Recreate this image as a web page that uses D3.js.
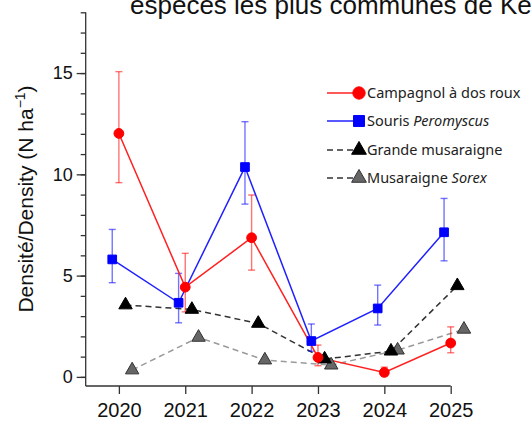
<!DOCTYPE html>
<html>
<head>
<meta charset="utf-8">
<script src="https://cdn.jsdelivr.net/npm/d3@7"></script>
<style>
  body { margin: 0; background: #fff; }
  svg { display: block; }
</style>
</head>
<body>
<svg id="chart" width="531" height="421"></svg>
<script>
// values
var years = [2020, 2021, 2022, 2023, 2024, 2025];

var campagnol   = [12.02, 4.43, 6.87, 0.96, 0.22, 1.67];
var campagnolLo = [9.59, 3.21, 5.27, 0.55, 0.05, 1.19];
var campagnolHi = [15.07, 6.10, 8.98, 1.57, 0.48, 2.47];

var souris   = [5.80, 3.66, 10.36, 1.77, 3.38, 7.14];
var sourisLo = [4.65, 2.67, 8.53, 1.27, 2.56, 5.73];
var sourisHi = [7.28, 5.11, 12.60, 2.61, 4.53, 8.81];

var grande = [3.55, 3.33, 2.64, 0.88, 1.27, 4.50];
var sorex  = [0.34, 1.95, 0.83, 0.58, 1.32, 2.35];

var yMajor = [0, 5, 10, 15];
var yMinor = d3.range(0, 19);

var svg = d3.select('#chart');

var x = d3.scaleLinear().domain([2019.5, 2025]).range([85.7, 450.7]),
    y = d3.scaleLinear().domain([-0.45, 18]).range([386, 12.3]);

var AXIS_COL = '#333';

// title, clipped by the window like the original
svg.append('text')
    .attr('x', 130)
    .attr('y', 13.5)
    .attr('font-family', 'Liberation Sans, Arial, sans-serif')
    .attr('font-size', 26)
    .attr('fill', '#111')
    .text('espèces les plus communes de Kenauk');

// axes
var yAxis = svg.append('g').attr('transform', 'translate(85.7,0)');
yAxis.call(d3.axisLeft(y).tickValues(yMinor).tickSize(5).tickFormat(''));
yAxis.append('g').call(d3.axisLeft(y).tickValues(yMajor).tickSize(9).tickPadding(4).tickFormat(d3.format('d')));
yAxis.selectAll('.domain').remove();
yAxis.append('line')
    .attr('y1', y(18)).attr('y2', y(-0.45))
    .attr('stroke', AXIS_COL).attr('stroke-width', 1.5);
yAxis.selectAll('line').attr('stroke', AXIS_COL).attr('stroke-width', 1.3);
yAxis.selectAll('text')
    .attr('font-family', 'Liberation Sans, Arial, sans-serif')
    .attr('font-size', 18).attr('fill', '#111');

var xAxis = svg.append('g').attr('transform', 'translate(0,386)');
xAxis.call(d3.axisBottom(x).tickValues(years).tickSize(8).tickPadding(8.5).tickFormat(d3.format('d')));
xAxis.select('.domain').remove();
xAxis.append('line')
    .attr('x1', x(2019.5)).attr('x2', x(2025))
    .attr('stroke', AXIS_COL).attr('stroke-width', 1.5);
xAxis.selectAll('line').attr('stroke', AXIS_COL).attr('stroke-width', 1.3);
xAxis.selectAll('text')
    .attr('font-family', 'Liberation Sans, Arial, sans-serif')
    .attr('font-size', 20).attr('fill', '#111');

// y label
svg.append('text')
    .attr('transform', 'translate(33,199) rotate(-90)')
    .attr('text-anchor', 'middle')
    .attr('font-family', 'Liberation Sans, Arial, sans-serif')
    .attr('font-size', 21)
    .attr('fill', '#111')
    .html('Densité/Density (N ha<tspan dy="-8" font-size="14">−1</tspan><tspan dy="8">)</tspan>');

// series drawing
function pts(vals, off) {
    return vals.map(function (v, i) { return [years[i] + off, v]; });
}

var line = d3.line()
    .x(function (d) { return x(d[0]); })
    .y(function (d) { return y(d[1]); });

function drawErrors(vals, lo, hi, off, col) {
    var g = svg.append('g')
        .attr('stroke', col).attr('stroke-opacity', 0.55).attr('stroke-width', 1.4);
    vals.forEach(function (v, i) {
        var cx = x(years[i] + off);
        g.append('line').attr('x1', cx).attr('x2', cx).attr('y1', y(lo[i])).attr('y2', y(hi[i]));
        g.append('line').attr('x1', cx - 3.5).attr('x2', cx + 3.5).attr('y1', y(lo[i])).attr('y2', y(lo[i]));
        g.append('line').attr('x1', cx - 3.5).attr('x2', cx + 3.5).attr('y1', y(hi[i])).attr('y2', y(hi[i]));
    });
}

function drawLine(vals, off, col, dash) {
    svg.append('path')
        .datum(pts(vals, off))
        .attr('d', line)
        .attr('fill', 'none')
        .attr('stroke', col)
        .attr('stroke-width', 1.5)
        .attr('stroke-dasharray', dash || null);
}

function drawMarks(vals, off, type, size, fill, stroke) {
    svg.append('g').selectAll('path')
        .data(pts(vals, off))
        .enter().append('path')
        .attr('transform', function (d) { return 'translate(' + x(d[0]) + ',' + y(d[1]) + ')'; })
        .attr('d', d3.symbol().type(type).size(size))
        .attr('fill', fill)
        .attr('stroke', stroke)
        .attr('stroke-width', 1);
}

drawLine(sorex, 0.2, '#9a9a9a', '6,4');
drawLine(grande, 0.1, '#333', '6,4');
drawErrors(campagnol, campagnolLo, campagnolHi, 0, '#ff0000');
drawErrors(souris, sourisLo, sourisHi, -0.1, '#0000ff');
drawLine(campagnol, 0, '#ff2020');
drawLine(souris, -0.1, '#2020ff');

drawMarks(sorex, 0.2, d3.symbolTriangle, 78, '#666', '#333');
drawMarks(grande, 0.1, d3.symbolTriangle, 78, '#000', '#000');
drawMarks(campagnol, 0, d3.symbolCircle, 75, '#ff0000', '#ff0000');
drawMarks(souris, -0.1, d3.symbolSquare, 75, '#0000ff', '#0000ff');

// legend
var legend = [
    { label: 'Campagnol à dos roux', it: null, line: '#ff2020', dash: null, sym: d3.symbolCircle, fill: '#ff0000', stroke: '#ff0000' },
    { label: 'Souris ', it: 'Peromyscus', line: '#2020ff', dash: null, sym: d3.symbolSquare, fill: '#0000ff', stroke: '#0000ff' },
    { label: 'Grande musaraigne', it: null, line: '#333', dash: '6,4', sym: d3.symbolTriangle, fill: '#000', stroke: '#000' },
    { label: 'Musaraigne ', it: 'Sorex', line: '#333', dash: '6,4', sym: d3.symbolTriangle, fill: '#666', stroke: '#333' }
];
var legendY = [93, 121, 150, 178];

var lg = svg.append('g').selectAll('g')
    .data(legend)
    .enter().append('g')
    .attr('transform', function (d, i) { return 'translate(0,' + legendY[i] + ')'; });

lg.append('line')
    .attr('x1', 327).attr('x2', 357)
    .attr('stroke', function (d) { return d.line; })
    .attr('stroke-width', 1.5)
    .attr('stroke-dasharray', function (d) { return d.dash; });

lg.append('path')
    .attr('transform', 'translate(359,0)')
    .attr('d', function (d) { return d3.symbol().type(d.sym).size(d.sym === d3.symbolTriangle ? 95 : 120)(); })
    .attr('fill', function (d) { return d.fill; })
    .attr('stroke', function (d) { return d.stroke; });

var lt = lg.append('text')
    .attr('x', 367)
    .attr('y', 5)
    .attr('font-family', 'Noto Sans, sans-serif')
    .attr('font-size', 14.5)
    .attr('fill', '#222');
lt.append('tspan').text(function (d) { return d.label; });
lt.append('tspan')
    .attr('font-style', 'italic')
    .text(function (d) { return d.it || ''; });
</script>
</body>
</html>
